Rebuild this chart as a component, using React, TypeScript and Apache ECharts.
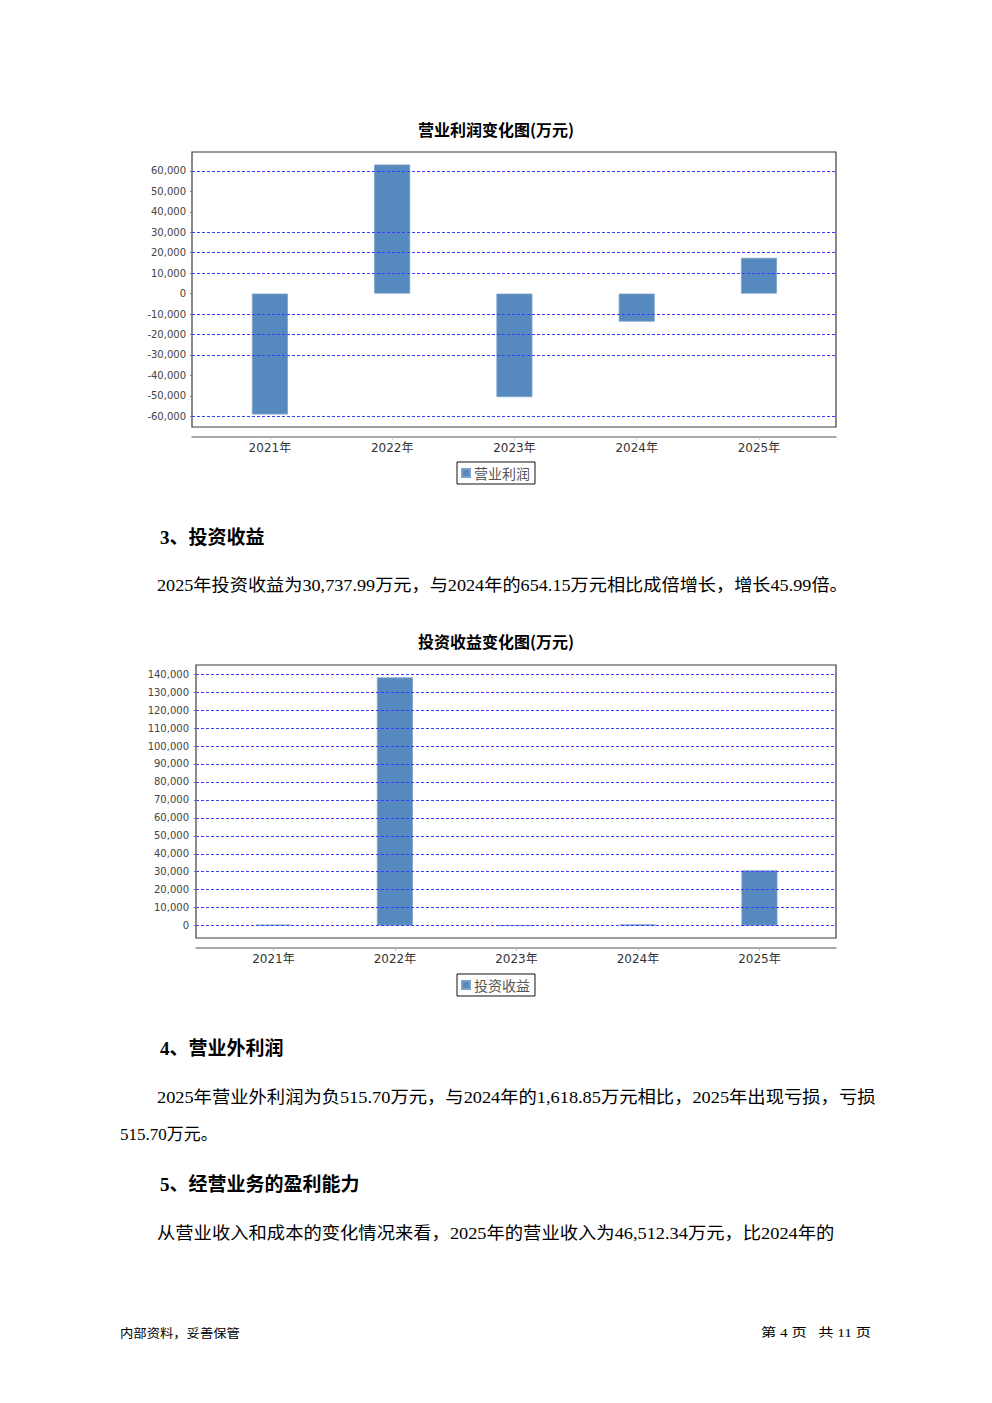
import React, { useEffect, useRef } from "react";
import * as echarts from "echarts";

// ---------- data ----------
const years = ["2021年", "2022年", "2023年", "2024年", "2025年"];
const opProfit = [-59100, 63100, -50600, -13700, 17500];
const opTicks = [-60000, -50000, -40000, -30000, -20000, -10000, 0, 10000, 20000, 30000, 40000, 50000, 60000];
const opGridVals = [60000, 30000, 20000, 10000, -10000, -20000, -30000, -60000];
const invIncome = [480, 138200, 0, 654.15, 30737.99];
const invTicks = [0, 10000, 20000, 30000, 40000, 50000, 60000, 70000, 80000, 90000, 100000, 110000, 120000, 130000, 140000];
const invGridVals = invTicks;

const title1 = "营业利润变化图(万元)";
const title2 = "投资收益变化图(万元)";
const legend1 = "营业利润";
const legend2 = "投资收益";
const heading3 = "3、投资收益";
const para3 = "2025年投资收益为30,737.99万元，与2024年的654.15万元相比成倍增长，增长45.99倍。";
const heading4 = "4、营业外利润";
const para4a = "2025年营业外利润为负515.70万元，与2024年的1,618.85万元相比，2025年出现亏损，亏损";
const para4b = "515.70万元。";
const heading5 = "5、经营业务的盈利能力";
const para5 = "从营业收入和成本的变化情况来看，2025年的营业收入为46,512.34万元，比2024年的";
const footerLeft = "内部资料，妥善保管";
const footerRight = "第 4 页   共 11 页";

// ---------- style ----------
const BAR = "#5689bd";
const GRID_LINE = "#3c3cff";
const SERIF = '"Liberation Serif", "Noto Sans CJK SC", serif';
const CJK = '"Noto Sans CJK SC", sans-serif';
const AXIS_FONT = '"DejaVu Sans", "Noto Sans CJK SC", sans-serif';

function measure(text: string, font: string) {
  const c = document.createElement("canvas").getContext("2d")!;
  c.font = font;
  return c.measureText(text).width;
}

function txt(text: string, x: number, y: number, size: number, family: string, opts: any = {}) {
  const weight = opts.bold ? "bold" : "normal";
  const font = `${weight} ${size}px ${family}`;
  let scaleX = 1;
  if (opts.width) scaleX = opts.width / measure(text, font);
  return {
    type: "text",
    x,
    y,
    scaleX,
    silent: true,
    style: {
      text,
      fill: opts.color || "#000",
      font,
      textAlign: opts.align || "left",
      textVerticalAlign: "middle",
    },
  };
}

function range(vals: number[]) {
  const lo = Math.min(0, ...vals);
  const hi = Math.max(0, ...vals);
  const pad = (hi - lo) * 0.05;
  return [lo - pad, hi + pad];
}

const fmt = (v: number) => Math.round(v).toLocaleString("en-US");

function makeAxes(idx: number, ticks: number[], ext: number[], offset: number, labelMargin: number) {
  const xAxis = {
    type: "value",
    gridIndex: idx,
    position: "bottom",
    min: -0.637,
    max: 4.63,
    offset,
    axisLine: { show: true, onZero: false, lineStyle: { color: "#8c8c8c", width: 1.5 } },
    axisTick: { show: true, customValues: [0, 1, 2, 3, 4], length: 3, lineStyle: { color: "#bbb" } },
    axisLabel: {
      customValues: [0, 1, 2, 3, 4],
      formatter: (v: number) => years[Math.round(v)] || "",
      color: "#333",
      fontSize: 12,
      fontFamily: AXIS_FONT,
      margin: 5,
    },
    splitLine: { show: false },
  };
  const yAxis = {
    type: "value",
    gridIndex: idx,
    min: ext[0],
    max: ext[1],
    axisLine: { show: false, onZero: false },
    axisTick: { show: true, customValues: ticks, length: 2, lineStyle: { color: "#777" } },
    axisLabel: {
      customValues: ticks,
      formatter: (v: number) => fmt(v),
      color: "#444",
      fontSize: 10,
      fontFamily: AXIS_FONT,
      margin: labelMargin,
    },
    splitLine: { show: false },
  };
  return { xAxis, yAxis };
}

function gridSeries(idx: number, vals: number[]) {
  return {
    type: "line",
    name: "grid" + idx,
    xAxisIndex: idx,
    yAxisIndex: idx,
    data: [],
    z: 1,
    silent: true,
    markLine: {
      silent: true,
      symbol: ["none", "none"],
      label: { show: false },
      lineStyle: { color: GRID_LINE, type: [3, 2], width: 1 },
      data: vals.map((v) => ({ yAxis: v })),
    },
  };
}

function barSeries(idx: number, name: string, vals: number[]) {
  return {
    type: "bar",
    name,
    xAxisIndex: idx,
    yAxisIndex: idx,
    barWidth: 36,
    z: 3,
    itemStyle: { color: BAR, borderColor: "#7fa2c9", borderWidth: 0.8 },
    data: vals.map((v, i) => [i, v]),
  };
}

function legendCfg(name: string, top: number) {
  return {
    data: [name],
    left: 457,
    top,
    orient: "horizontal",
    icon: "rect",
    itemWidth: 8,
    itemHeight: 8,
    itemGap: 5,
    padding: [4, 5, 4, 4],
    borderColor: "#111",
    borderWidth: 1,
    selectedMode: false,
    textStyle: { fontSize: 14, color: "#555", fontFamily: CJK, padding: [0, 0, 0, -1] },
  };
}

export default function App() {
  const ref = useRef<HTMLDivElement>(null);
  useEffect(() => {
    if (!ref.current) return;
    const chart = echarts.init(ref.current, null, { renderer: "svg" });
    const a1 = makeAxes(0, opTicks, range(opProfit), 9.5, 6);
    const a2 = makeAxes(1, invTicks, range(invIncome), 10, 7);
    chart.setOption({
      animation: false,
      backgroundColor: "#fff",
      grid: [
        { left: 192, top: 152, width: 644, height: 275, show: true, borderColor: "#3a3a3a", borderWidth: 1.2, backgroundColor: "transparent" },
        { left: 196, top: 665, width: 640, height: 273, show: true, borderColor: "#3a3a3a", borderWidth: 1.2, backgroundColor: "transparent" },
      ],
      xAxis: [a1.xAxis, a2.xAxis],
      yAxis: [a1.yAxis, a2.yAxis],
      legend: [legendCfg(legend1, 462), legendCfg(legend2, 974)],
      series: [
        gridSeries(0, opGridVals),
        barSeries(0, legend1, opProfit),
        gridSeries(1, invGridVals),
        barSeries(1, legend2, invIncome),
      ],
      graphic: [
        txt(title1, 496, 129, 16, CJK, { bold: true, align: "center" }),
        txt(title2, 496, 641, 16, CJK, { bold: true, align: "center" }),
        txt(heading3, 160, 537, 19, SERIF, { bold: true }),
        txt(para3, 157, 585, 17, SERIF, { width: 691 }),
        txt(heading4, 160, 1048, 19, SERIF, { bold: true }),
        txt(para4a, 157, 1097, 17, SERIF, { width: 719 }),
        txt(para4b, 120, 1134, 17, SERIF),
        txt(heading5, 160, 1184, 19, SERIF, { bold: true }),
        txt(para5, 157, 1233, 17, SERIF, { width: 678 }),
        txt(footerLeft, 120, 1333, 12.5, CJK, { width: 120 }),
        txt(footerRight, 761, 1333, 12.5, SERIF, { width: 110 }),
      ],
    });
    return () => chart.dispose();
  }, []);
  return <div ref={ref} style={{ position: "absolute", left: 0, top: 0, width: 992, height: 1403 }} />;
}
